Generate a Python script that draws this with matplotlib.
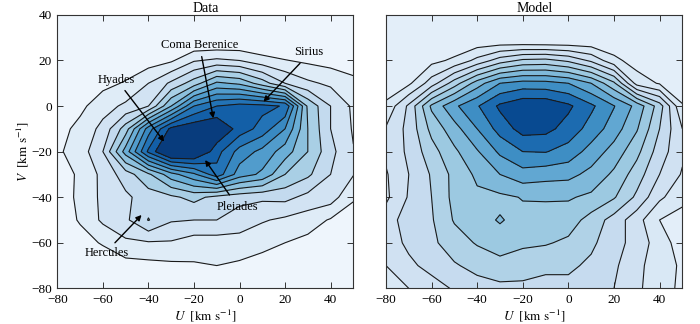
import numpy as np
import matplotlib
matplotlib.use("Agg")
import matplotlib.pyplot as plt
from matplotlib import cm

plt.rcParams['font.family'] = ['Liberation Serif', 'DejaVu Serif']
plt.rcParams['mathtext.fontset'] = 'stix'
plt.rcParams['axes.unicode_minus'] = True

# grid coordinates (km/s)
U = [-80, -70, -60, -50, -40, -30, -20, -10, 0, 10, 20, 30, 40, 50]
V = [40, 30, 20, 10, 0, -10, -20, -30, -40, -50, -60, -70, -80]

data_density = [
    [-0.6, -0.6, -0.6, -0.6, -0.6, -0.6, -0.6, -0.6, -0.6, -0.6, -0.6, -0.6, -0.6, -0.6],
    [-0.3, -0.3, -0.3, -0.3, -0.3, -0.3, -0.3, -0.4, -0.3, -0.3, -0.3, -0.3, -0.3, -0.3],
    [0.1, 0.1, 0.2, 0.3, 0.5, 0.85, 1.9, 2.2, 2.0, 1.4, 1.05, 0.8, 0.6, 0.4],
    [0.2, 0.4, 0.7, 1.1, 2.0, 3.2, 4.5, 6.2, 5.8, 4.5, 3.0, 2.2, 1.8, 1.3],
    [0.4, 0.75, 1.6, 2.2, 3.0, 6.0, 9.0, 10.0, 10.4, 10.3, 9.9, 4.8, 3.0, 1.8],
    [0.6, 1.3, 2.3, 4.5, 8.5, 11.3, 11.8, 12.0, 10.6, 9.6, 8.0, 5.0, 3.0, 1.9],
    [0.85, 1.43, 3.0, 6.45, 10.2, 12.8, 12.5, 10.4, 8.6, 7.7, 6.5, 5.0, 3.3, 2.05],
    [0.7, 1.1, 2.3, 3.5, 4.8, 6.6, 7.8, 9.6, 7.5, 6.8, 5.0, 4.2, 3.0, 2.05],
    [0.5, 1.2, 2.25, 2.8, 3.5, 3.8, 4.3, 3.7, 3.4, 3.2, 3.3, 2.7, 2.5, 1.1],
    [0.4, 1.1, 2.2, 2.8, 4.05, 3.1, 3.0, 3.0, 2.4, 2.1, 1.8, 1.5, 0.9, 0.6],
    [0.2, 0.6, 1.1, 1.8, 1.9, 1.9, 1.5, 1.5, 1.7, 1.3, 1.0, 0.7, 0.5, 0.4],
    [0.1, 0.2, 0.3, 0.6, 0.7, 0.8, 0.9, 1.0, 0.8, 0.6, 0.5, 0.4, 0.3, 0.2],
    [-0.2, -0.2, -0.2, -0.2, -0.2, -0.2, -0.2, -0.2, -0.2, -0.2, -0.2, -0.2, -0.2, -0.2],
]

model_density = [
    [0.5, 0.5, 0.5, 0.5, 0.5, 0.5, 0.5, 0.5, 0.5, 0.5, 0.5, 0.5, 0.5, 0.5],
    [0.8, 0.9, 1.0, 1.0, 1.0, 0.8, 0.6, 0.5, 0.6, 0.8, 1.0, 1.0, 1.0, 0.9],
    [1.0, 1.4, 1.7, 2.2, 3.3, 4.5, 5.2, 5.3, 4.8, 3.8, 2.3, 1.5, 1.4, 1.2],
    [1.4, 1.8, 3.5, 5.5, 7.5, 9.0, 9.4, 9.35, 9.0, 8.0, 6.2, 2.6, 1.9, 1.6],
    [2.2, 4.2, 7.2, 8.8, 9.9, 11.2, 11.8, 11.8, 11.2, 10.2, 9.05, 7.7, 5.5, 2.05],
    [3.1, 4.3, 6.3, 7.6, 9.0, 10.4, 11.4, 11.3, 10.6, 9.6, 8.5, 7.1, 5.0, 3.0],
    [3.2, 4.2, 5.6, 6.8, 7.9, 9.2, 10.0, 10.05, 9.6, 8.6, 7.6, 6.3, 4.5, 3.2],
    [2.9, 4.0, 5.1, 6.3, 7.2, 8.0, 8.6, 8.4, 8.3, 7.7, 6.8, 5.5, 4.0, 2.9],
    [2.8, 4.1, 5.0, 6.3, 6.8, 6.8, 7.05, 7.1, 7.1, 6.8, 6.1, 4.8, 3.2, 2.3],
    [3.5, 4.5, 4.9, 6.1, 6.75, 7.06, 6.75, 6.6, 6.5, 5.6, 4.6, 3.4, 2.0, 1.6],
    [3.5, 4.2, 4.8, 5.5, 6.1, 6.7, 6.2, 6.1, 5.8, 5.2, 4.4, 3.6, 2.5, 1.5],
    [3.0, 3.8, 4.3, 4.9, 5.3, 5.5, 5.4, 5.2, 5.2, 4.8, 4.2, 3.2, 2.6, 1.8],
    [2.6, 3.0, 3.6, 4.1, 4.6, 4.8, 4.8, 4.7, 4.7, 4.5, 4.0, 3.2, 2.4, 1.8],
]

data_levels = [1, 2, 3, 4, 5, 6, 7, 8, 9, 10, 11]
model_levels = [2, 3, 4, 5, 6, 7, 8, 9, 10, 11]

# colour position (on the Blues map) of each filled band, lowest band first
data_band_pos = [0.05, 0.12, 0.19, 0.26, 0.34, 0.42, 0.50, 0.58, 0.66, 0.74, 0.82, 0.95]
model_band_pos = [0.10, 0.15, 0.20, 0.25, 0.32, 0.38, 0.45, 0.53, 0.64, 0.77, 0.90]

titles = ["Data", "Model"]
ticks = [-80, -60, -40, -20, 0, 20, 40]

annotations = [
    ("Coma Berenice", (-17.3, 27.0), (-11.5, -5.4), (-16.6, 21.7)),
    ("Sirius", (30.5, 23.6), (10.5, 1.9), (26.6, 18.8)),
    ("Hyades", (-54.0, 11.5), (-33.1, -15.6), (-50.3, 6.8)),
    ("Pleiades", (-0.9, -44.5), (-15.1, -23.7), (-4.4, -39.0)),
    ("Hercules", (-58.3, -64.7), (-43.0, -47.8), (-54.7, -60.0)),
]

fig = plt.figure(figsize=(7.0, 3.24), dpi=100)
ax1 = fig.add_axes([0.0819, 0.110, 0.4229, 0.844])
ax2 = fig.add_axes([0.5514, 0.110, 0.4234, 0.844])

Ug, Vg = np.meshgrid(U, V)
for ax, Z, lev, pos, title in [(ax1, data_density, data_levels, data_band_pos, titles[0]),
                               (ax2, model_density, model_levels, model_band_pos, titles[1])]:
    Z = np.array(Z)
    fill_lev = [-100] + lev + [100]
    cols = [cm.Blues(p) for p in pos]
    ax.contourf(Ug, Vg, Z, levels=fill_lev, colors=cols)
    ax.contour(Ug, Vg, Z, levels=lev, colors='#1a1a1a', linewidths=0.8)
    ax.set_xlim(-80, 50)
    ax.set_ylim(-80, 40)
    ax.set_xticks(ticks)
    ax.set_yticks(ticks)
    ax.tick_params(direction='in', top=True, right=True, length=4, width=0.7,
                   labelsize=9.5, colors='#333333', labelcolor='black', pad=4)
    for s in ax.spines.values():
        s.set_linewidth(0.8)
        s.set_color('#333333')
    ax.set_title(title, fontsize=10, pad=2)
    ax.set_xlabel(r"$U\ \ [\mathrm{km\ s^{-1}}]$", fontsize=9.5, labelpad=1)

ax1.set_ylabel(r"$V\ \ [\mathrm{km\ s^{-1}}]$", fontsize=9.5, labelpad=0)
ax2.set_yticklabels([])

for txt, tpos, head, tail in annotations:
    ax1.text(tpos[0], tpos[1], txt, ha='center', va='center', fontsize=9)
    ax1.annotate("", xy=head, xytext=tail,
                 arrowprops=dict(arrowstyle='-|>', color='black', lw=1.0,
                                 mutation_scale=8, shrinkA=0, shrinkB=0))

fig.savefig("out.png", dpi=100)
